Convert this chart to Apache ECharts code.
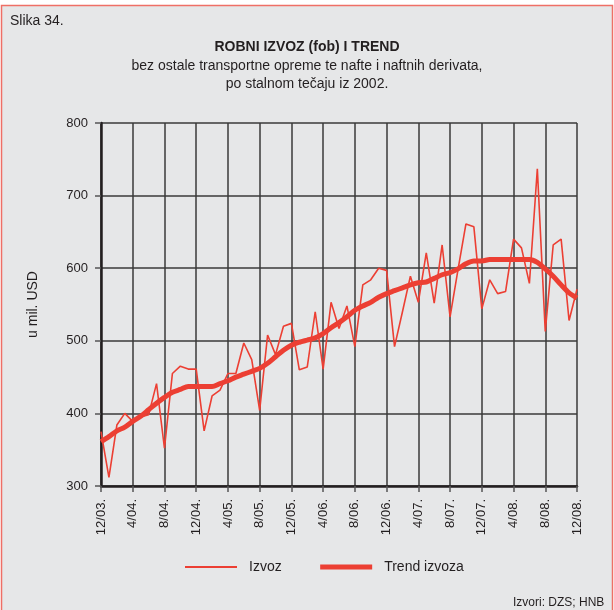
<!DOCTYPE html>
<html>
<head>
<meta charset="utf-8">
<script src="https://cdn.jsdelivr.net/npm/echarts@6/dist/echarts.min.js"></script>
<style>
  html, body { margin: 0; background: #fff; }
  #chart { width: 614px; height: 610px; }
</style>
</head>
<body>
<div id="chart"></div>
<script>
// mjeseci 12/03 - 12/08
const months = [
  "12/03.",
  "1/04.", "2/04.", "3/04.", "4/04.", "5/04.", "6/04.", "7/04.", "8/04.", "9/04.", "10/04.", "11/04.", "12/04.",
  "1/05.", "2/05.", "3/05.", "4/05.", "5/05.", "6/05.", "7/05.", "8/05.", "9/05.", "10/05.", "11/05.", "12/05.",
  "1/06.", "2/06.", "3/06.", "4/06.", "5/06.", "6/06.", "7/06.", "8/06.", "9/06.", "10/06.", "11/06.", "12/06.",
  "1/07.", "2/07.", "3/07.", "4/07.", "5/07.", "6/07.", "7/07.", "8/07.", "9/07.", "10/07.", "11/07.", "12/07.",
  "1/08.", "2/08.", "3/08.", "4/08.", "5/08.", "6/08.", "7/08.", "8/08.", "9/08.", "10/08.", "11/08.", "12/08."
];

const izvoz = [
  375, 312, 384, 400, 389, 395, 398, 441, 352, 455, 465, 461, 461,
  376, 424, 432, 455, 455, 497, 474, 404, 508, 481, 520, 524,
  460, 464, 540, 461, 553, 517, 548, 492, 577, 584, 600, 597,
  492, 540, 589, 553, 621, 552, 632, 533, 598, 661, 657, 544,
  584, 565, 568, 640, 628, 579, 737, 513, 632, 640, 528, 571
];

const trend = [
  361, 368, 376, 381, 389, 396, 405, 414, 422, 429, 433, 437, 437,
  437, 437, 441, 445, 450, 454, 458, 462, 469, 478, 487, 494,
  498, 501, 504, 510, 518, 525, 533, 542, 548, 553, 560, 565,
  569, 573, 577, 580, 581, 586, 591, 594, 599, 606, 610, 610,
  612, 612, 612, 612, 612, 612, 608, 599, 589, 577, 566, 559
];

const yMin = 300;
const yMax = 800;
const yStep = 100;

const red = "#ec3f33";
const txt = "#231f20";
const font = "Liberation Sans";

const chart = echarts.init(document.getElementById("chart"));
chart.setOption({
  animation: false,
  backgroundColor: "#fff",
  textStyle: { fontFamily: font, color: txt },
  graphic: [
    {
      type: "rect",
      z: -10,
      shape: { x: 1.5, y: 5.5, width: 611, height: 610 },
      style: { fill: "#e6e7e8", stroke: "#ef6f66", lineWidth: 1.5 }
    },
    {
      type: "text", left: 10, top: 14,
      style: { text: "Slika 34.", font: "14px " + font, fill: txt }
    },
    {
      type: "text", left: "center", top: 40,
      style: { text: "ROBNI IZVOZ (fob) I TREND", font: "bold 14px " + font, fill: txt }
    },
    {
      type: "text", left: "center", top: 59,
      style: {
        text: "bez ostale transportne opreme te nafte i naftnih derivata,",
        font: "14px " + font, fill: txt
      }
    },
    {
      type: "text", left: "center", top: 77,
      style: { text: "po stalnom tečaju iz 2002.", font: "14px " + font, fill: txt }
    },
    {
      type: "text", left: 513, top: 597,
      style: { text: "Izvori: DZS; HNB", font: "12px " + font, fill: txt }
    }
  ],
  grid: { left: 101, top: 123, width: 476, height: 363 },
  legend: {
    bottom: 31,
    left: 179,
    itemWidth: 52,
    itemHeight: 8,
    itemGap: 36,
    textStyle: { fontSize: 14, color: txt, fontFamily: font, padding: [0, 0, 0, 7] },
    data: [
      { name: "Izvoz", itemStyle: { opacity: 0 }, lineStyle: { width: 2 } },
      { name: "Trend izvoza", itemStyle: { opacity: 0 }, lineStyle: { width: 5 } }
    ]
  },
  xAxis: {
    type: "category",
    boundaryGap: false,
    data: months,
    axisLine: { lineStyle: { color: "#231f20", width: 2.5 } },
    axisTick: { interval: 3, length: 6, lineStyle: { color: "#555", width: 1.5 } },
    axisLabel: {
      interval: 3, rotate: 90, margin: 13,
      fontSize: 13, color: txt, fontFamily: font
    },
    splitLine: { show: true, interval: 3, lineStyle: { color: "#3a3a3a", width: 1.5 } }
  },
  yAxis: {
    type: "value",
    min: yMin,
    max: yMax,
    interval: yStep,
    name: "u mil. USD",
    nameLocation: "middle",
    nameGap: 61,
    nameTextStyle: { fontSize: 14, color: txt, fontFamily: font },
    axisLine: { show: true, lineStyle: { color: "#231f20", width: 2.5 } },
    axisTick: { show: true, length: 6, lineStyle: { color: "#555", width: 1.5 } },
    axisLabel: { margin: 13, fontSize: 13, color: txt, fontFamily: font },
    splitLine: { show: true, lineStyle: { color: "#3a3a3a", width: 1.5 } }
  },
  series: [
    {
      name: "Izvoz",
      type: "line",
      data: izvoz,
      symbol: "none",
      lineStyle: { color: red, width: 1.6 },
      itemStyle: { color: red },
      z: 3
    },
    {
      name: "Trend izvoza",
      type: "line",
      data: trend,
      symbol: "none",
      smooth: 0.3,
      lineStyle: { color: red, width: 5 },
      itemStyle: { color: red },
      z: 4
    }
  ]
});
</script>
</body>
</html>
